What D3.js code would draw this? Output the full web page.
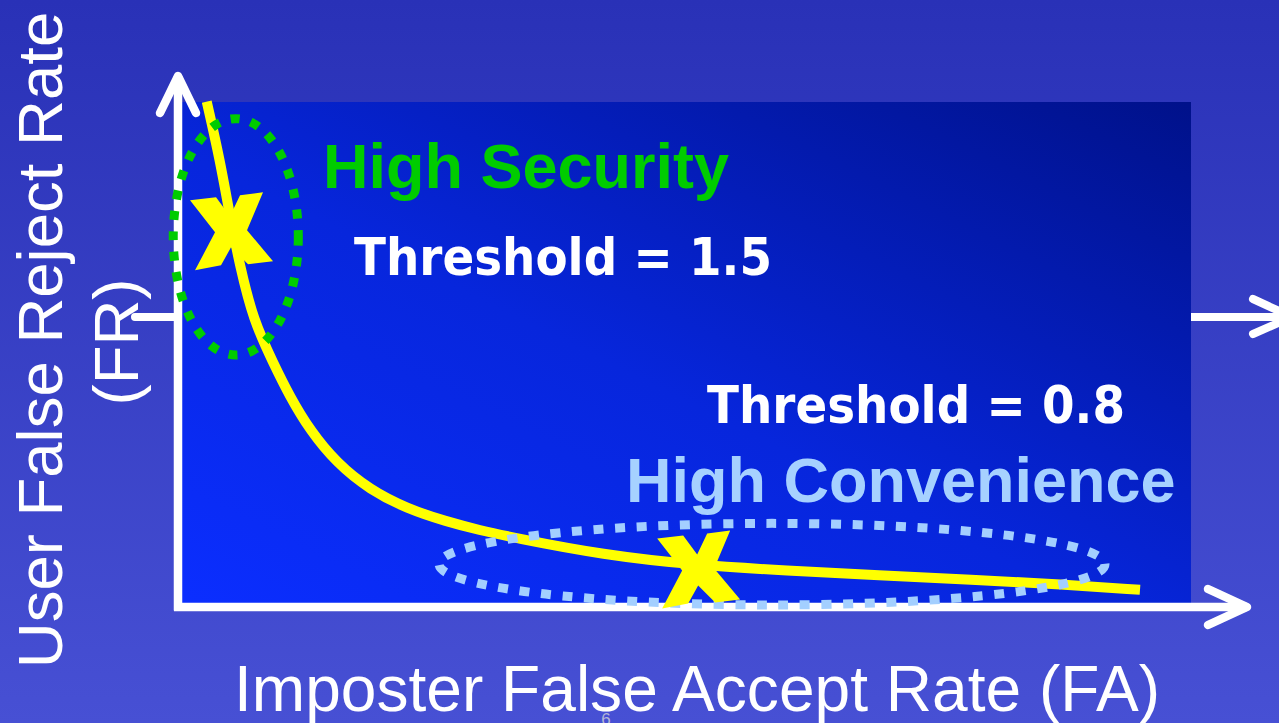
<!DOCTYPE html>
<html>
<head>
<meta charset="utf-8">
<script src="https://cdn.jsdelivr.net/npm/d3@7/dist/d3.min.js"></script>
<style>
  html, body { margin: 0; padding: 0; overflow: hidden; background: #3440c4; }
  svg { display: block; }
</style>
</head>
<body>
<svg id="chart" width="1279" height="723"></svg>
<script>
// Trade-off curve between false accepts (FA) and false rejects (FR), in percent of axis length
const curveFA = [2.84, 4.15, 5.14, 6.13, 7.44, 9.42, 11.07, 13.04, 15.68, 18.97, 22.60, 26.55, 29.84, 32.98, 42.07, 51.09, 60.18, 69.27, 78.36, 87.45, 95.06];
const curveFR = [100.06, 88.5, 77.3, 67.4, 56.8, 48.3, 41.6, 35.0, 28.5, 23.2, 19.5, 16.9, 15.2, 13.8, 10.3, 8.3, 7.2, 6.3, 5.4, 4.5, 3.4];

// Operating points for two thresholds
const thresholds = ["1.5", "0.8"];
const opFA = [5.24, 51.4];
const opFR = [74.6, 7.6];

// Highlighted operating regions (centre and half-extents, in axis units)
const regionNames = ["High Security", "High Convenience"];
const regionCX = [5.71, 58.7];
const regionCY = [73.3, 8.48];
const regionRX = [6.18, 32.9];
const regionRY = [23.4, 8.08];

const xTitle = "Imposter False Accept Rate (FA)";
const yTitle = ["User False Reject Rate", "(FR)"];

const W = 1279, H = 723;
const svg = d3.select("#chart");
const defs = svg.append("defs");

// page background
const bg = defs.append("linearGradient").attr("id", "bg")
  .attr("x1", 0).attr("y1", 0).attr("x2", 0).attr("y2", 1);
bg.append("stop").attr("offset", 0).attr("stop-color", "#2931b7");
bg.append("stop").attr("offset", 1).attr("stop-color", "#4750d4");
svg.append("rect").attr("width", W).attr("height", H).attr("fill", "url(#bg)");

// plot panel gradient: bright bottom-left to dark top-right
const pg = defs.append("linearGradient").attr("id", "panel")
  .attr("x1", 0).attr("y1", 1).attr("x2", 1).attr("y2", 0);
pg.append("stop").attr("offset", 0).attr("stop-color", "#0b2eff");
pg.append("stop").attr("offset", 0.45).attr("stop-color", "#0726dc");
pg.append("stop").attr("offset", 1).attr("stop-color", "#00118a");

const x = d3.scaleLinear().domain([0, 100]).range([178, 1190]);
const y = d3.scaleLinear().domain([0, 100]).range([607, 102]);

// horizontal arrow partly hidden behind the panel
const white = "#ffffff";
svg.append("path")
  .attr("d", "M135,317 L1292,317 M1253,299 L1292,317 L1253,334")
  .attr("fill", "none").attr("stroke", white).attr("stroke-width", 8)
  .attr("stroke-linecap", "round").attr("stroke-linejoin", "round");

// plot panel
svg.append("rect")
  .attr("x", x(0) + 4).attr("y", y(100))
  .attr("width", x(100) - x(0) - 3).attr("height", y(0) - y(100) - 4)
  .attr("fill", "url(#panel)");

// axes with arrowheads
const axes = svg.append("g").attr("fill", "none").attr("stroke", white)
  .attr("stroke-width", 8.5).attr("stroke-linejoin", "round");
axes.append("path").attr("stroke-linecap", "butt")
  .attr("d", `M${x(0)},${y(0) + 3.5} L${x(0)},${y(100) - 26}`);
axes.append("path").attr("stroke-linecap", "round")
  .attr("d", `M${x(0) - 18},${y(100) + 11} L${x(0)},${y(100) - 26} L${x(0) + 18},${y(100) + 11}`);
axes.append("path").attr("stroke-linecap", "butt")
  .attr("d", `M${x(0) - 4},${y(0)} L${x(0) + 1069},${y(0)}`);
axes.append("path").attr("stroke-linecap", "round")
  .attr("d", `M${x(0) + 1030},${y(0) - 18} L${x(0) + 1069},${y(0)} L${x(0) + 1030},${y(0) + 18}`);

// trade-off curve
const line = d3.line().x(d => x(d[0])).y(d => y(d[1])).curve(d3.curveBasis);
svg.append("path")
  .datum(curveFA.map((v, i) => [v, curveFR[i]]))
  .attr("d", line)
  .attr("fill", "none").attr("stroke", "#ffff00").attr("stroke-width", 10);

// dotted region outlines
const regionColors = ["#00cc00", "#a3cfff"];
const regionDash = ["9 11.5", "10 11.6"];
regionNames.forEach((name, i) => {
  svg.append("ellipse")
    .attr("cx", x(regionCX[i])).attr("cy", y(regionCY[i]))
    .attr("rx", x(regionRX[i]) - x(0)).attr("ry", y(0) - y(regionRY[i]))
    .attr("fill", "none").attr("stroke", regionColors[i])
    .attr("stroke-width", 9).attr("stroke-dasharray", regionDash[i]);
});

// operating-point cross markers
const cross = [[-41,-30],[-15,-33],[-1,-14],[9,-35],[32,-38],[16,0],[42,31],[17,34],[0,17],[-10,35],[-36,40],[-16,2]];
svg.append("g").selectAll("path").data(opFA).join("path")
  .attr("d", "M" + cross.map(p => p.join(",")).join("L") + "Z")
  .attr("transform", (d, i) => `translate(${x(d)},${y(opFR[i])})`)
  .attr("fill", "#ffff00");

// annotations
const sans = "'Liberation Sans', Arial, sans-serif";
svg.append("text").attr("x", 323).attr("y", 188)
  .attr("font-family", sans).attr("font-weight", "bold").attr("font-size", 63)
  .attr("fill", "#00cc00").text(regionNames[0]);
svg.append("text").attr("x", 626).attr("y", 502)
  .attr("font-family", sans).attr("font-weight", "bold").attr("font-size", 63)
  .attr("fill", "#a6d1ff").text(regionNames[1]);

const thrPos = [[354, 275], [707, 423]];
thresholds.forEach((t, i) => {
  svg.append("text").attr("x", thrPos[i][0]).attr("y", thrPos[i][1])
    .attr("font-family", "'DejaVu Sans', sans-serif").attr("font-weight", "bold")
    .attr("font-size", 51).attr("fill", white)
    .attr("textLength", 418).attr("lengthAdjust", "spacingAndGlyphs")
    .text(`Threshold = ${t}`);
});

// slide number
svg.append("text").attr("x", 606).attr("y", 725).attr("text-anchor", "middle")
  .attr("font-family", sans).attr("font-size", 17).attr("fill", "#b4b6d6").text("6");

// axis titles
svg.append("text").attr("x", 697).attr("y", 711).attr("text-anchor", "middle")
  .attr("font-family", sans).attr("font-size", 64).attr("fill", white)
  .attr("textLength", 926).attr("lengthAdjust", "spacingAndGlyphs").text(xTitle);
const yPos = [[62, 340], [138, 342]];
yTitle.forEach((t, i) => {
  svg.append("text")
    .attr("transform", `translate(${yPos[i][0]},${yPos[i][1]}) rotate(-90)`)
    .attr("text-anchor", "middle")
    .attr("font-family", sans).attr("font-size", 63.5).attr("fill", white).text(t);
});
</script>
</body>
</html>
